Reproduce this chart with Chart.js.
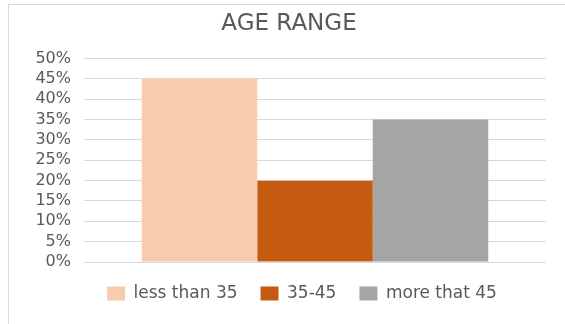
<!DOCTYPE html>
<html>
<head>
<meta charset="utf-8">
<script src="https://cdn.jsdelivr.net/npm/chart.js@4"></script>
<style>
  html, body { margin:0; padding:0; background:#fff; }
  #wrap { position:relative; width:565px; height:324px; }
  #frame {
    position:absolute; left:8px; top:4px; right:0; bottom:0;
    border-left:1px solid #d9d9d9; border-top:1px solid #d9d9d9;
    pointer-events:none;
  }
</style>
</head>
<body>
<div id="wrap">
  <canvas id="grafico" width="565" height="324"></canvas>
  <div id="frame"></div>
</div>
<script>
  // datos
  const titulo     = 'AGE RANGE';
  const categorias = ['less than 35', '35-45', 'more that 45'];
  const valores    = [45, 20, 35];
  const ejeMax     = 50;
  const ejePaso    = 5;

  const colores = ['#F8CBAD', '#C55A11', '#A5A5A5'];
  const gris    = '#595959';

  // la leyenda va un poco a la derecha del titulo
  const moverLeyenda = {
    id: 'moverLeyenda',
    afterLayout(chart){
      chart.legend.left  += 13;
      chart.legend.right += 13;
    }
  };

  const ctx = document.getElementById('grafico');
  const chart = new Chart(ctx, {
    type: 'bar',
    data: {
      labels: [''],
      datasets: categorias.map((c, i) => ({
        label: c,
        data: [valores[i]],
        backgroundColor: colores[i],
        borderWidth: 0
      }))
    },
    options: {
      responsive: false,
      animation: false,
      layout: { padding: { left: 32, right: 19, top: 0, bottom: 12 } },
      datasets: { bar: { categoryPercentage: 0.75, barPercentage: 1 } },
      scales: {
        x: { display: false },
        y: {
          min: 0,
          max: ejeMax,
          border: { display: false },
          grid: { color: '#d9d9d9', lineWidth: 1, drawTicks: false },
          ticks: {
            stepSize: ejePaso,
            autoSkip: false,
            padding: 13,
            color: gris,
            font: { family: 'DejaVu Sans', size: 16 },
            callback: v => v + '%'
          },
          afterFit: s => { s.width = 52; }
        }
      },
      plugins: {
        title: {
          display: true,
          text: titulo,
          color: gris,
          font: { family: 'DejaVu Sans', size: 23, weight: 'normal' },
          padding: { top: 10, bottom: 21 }
        },
        legend: {
          position: 'bottom',
          labels: {
            boxWidth: 18,
            boxHeight: 14,
            padding: 23,
            color: gris,
            font: { family: 'DejaVu Sans', size: 17 }
          }
        },
        tooltip: { enabled: false }
      }
    },
    plugins: [moverLeyenda]
  });
</script>
</body>
</html>
